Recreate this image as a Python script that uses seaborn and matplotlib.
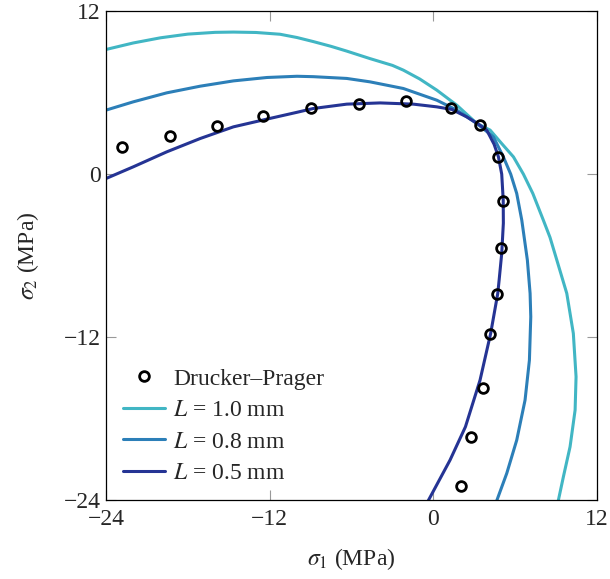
import seaborn as sns
import pandas as pd
import matplotlib.pyplot as plt

# Drucker-Prager reference points
dp_s1 = [-22.85, -19.3, -15.9, -12.5, -9.0, -5.45, -2.0, 1.3, 3.4,
         4.72, 5.11, 4.96, 4.67, 4.15, 3.62, 2.76, 2.05]
dp_s2 = [1.99, 2.82, 3.51, 4.25, 4.84, 5.18, 5.38, 4.84, 3.6,
         1.25, -1.99, -5.45, -8.84, -11.78, -15.7, -19.3, -22.95]

# L = 1.0 mm
l10_s1 = [-24.0, -22.0, -20.0, -18.0, -16.0, -14.66, -13.0, -11.24, -10.0, -8.8,
          -7.5, -6.35, -4.65, -3.0, -2.2, -1.0, 0.25, 1.72, 3.18, 4.16, 5.0,
          5.87, 6.6, 7.29, 8.06, 8.55, 9.05, 9.78, 10.26, 10.46, 10.39, 10.02,
          9.53, 9.16]
l10_s2 = [9.17, 9.65, 10.03, 10.3, 10.43, 10.45, 10.42, 10.29, 10.05, 9.75,
          9.4, 9.05, 8.5, 8.0, 7.65, 7.0, 6.18, 5.07, 3.73, 3.24, 2.26,
          1.27, 0.0, -1.42, -3.38, -4.65, -6.32, -8.77, -11.71, -14.9, -17.35, -20.05,
          -22.26, -24.0]

# L = 0.8 mm
l08_s1 = [-24.0, -22.0, -19.55, -17.1, -14.66, -12.2, -10.0, -8.8, -6.35, -4.65,
          -2.2, 0.25, 1.72, 3.18, 4.4, 5.13, 5.67, 6.11, 6.48, 6.89, 7.09,
          7.14, 7.04, 6.72, 6.11, 5.38, 4.65]
l08_s2 = [4.71, 5.32, 5.98, 6.47, 6.86, 7.11, 7.2, 7.17, 7.04, 6.79,
          6.3, 5.44, 4.71, 3.73, 2.74, 1.27, 0.0, -1.42, -3.38, -6.32, -8.77,
          -10.49, -13.68, -16.62, -19.56, -22.0, -24.0]

# L = 0.5 mm
l05_s1 = [-24.0, -22.0, -19.55, -17.1, -14.66, -12.2, -10.0, -8.8, -6.35, -3.9,
          -1.47, 0.25, 1.35, 2.45, 3.42, 3.91, 4.45, 4.77, 5.01, 5.12, 5.13,
          5.01, 4.82, 4.72, 4.2, 3.42, 2.35, 1.22, -0.37]
l05_s2 = [-0.32, 0.54, 1.64, 2.62, 3.48, 4.05, 4.55, 4.83, 5.15, 5.24,
          5.15, 4.95, 4.76, 4.21, 3.6, 3.24, 2.2, 1.27, 0.0, -1.9, -3.6,
          -5.83, -7.79, -8.77, -11.71, -15.15, -18.58, -21.03, -24.0]

ticks = [-24, -12, 0, 12]
tick_labels = ['\u221224', '\u221212', '0', '12']

sns.set_theme(style="ticks")
plt.rcParams['font.family'] = ['Liberation Serif', 'DejaVu Serif']
plt.rcParams['mathtext.fontset'] = 'stix'
plt.rcParams['font.size'] = 17

fig = plt.figure(figsize=(6.1, 5.79), dpi=100)
ax = fig.add_axes([0.1738, 0.1356, 0.805, 0.8454])

curves = [
    (l10_s1, l10_s2, '#41b6c4', r'$L$ = 1.0 mm'),
    (l08_s1, l08_s2, '#2c7fb8', r'$L$ = 0.8 mm'),
    (l05_s1, l05_s2, '#253494', r'$L$ = 0.5 mm'),
]
for xs, ys, col, lab in curves:
    df = pd.DataFrame({'s1': xs, 's2': ys})
    sns.lineplot(data=df, x='s1', y='s2', sort=False, estimator=None,
                 color=col, lw=2.2, ax=ax, label=lab)

dp = pd.DataFrame({'s1': dp_s1, 's2': dp_s2})
ax.plot(dp['s1'], dp['s2'], 'o', ms=7, mfc='none', mec='black', mew=2.0,
        label='Drucker–Prager', zorder=5)

h, l = ax.get_legend_handles_labels()
order = [3, 0, 1, 2]
ax.legend([h[i] for i in order], [l[i] for i in order], loc='lower left',
          bbox_to_anchor=(0.0, 0.0), frameon=False, fontsize=17,
          handlelength=1.8, handletextpad=0.35, labelspacing=0.42,
          borderaxespad=0.3)

ax.set_xlim(-24, 12)
ax.set_ylim(-24, 12)
ax.set_xticks(ticks)
ax.set_yticks(ticks)
ax.set_xticklabels(tick_labels, fontsize=17)
ax.set_yticklabels(tick_labels, fontsize=17)
ax.tick_params(axis='x', pad=6)
ax.tick_params(direction='in', length=7, width=0.8, color='#999999',
               top=True, right=True)
ax.tick_params(axis='y', pad=4)
for sp in ax.spines.values():
    sp.set_color('black')
    sp.set_linewidth(0.9)
ax.set_xlabel(r'$\sigma_1$ (MPa)', fontsize=17, labelpad=12)
ax.set_ylabel(r'$\sigma_2$ (MPa)', fontsize=17, labelpad=16)

fig.savefig('out.png', dpi=100)
